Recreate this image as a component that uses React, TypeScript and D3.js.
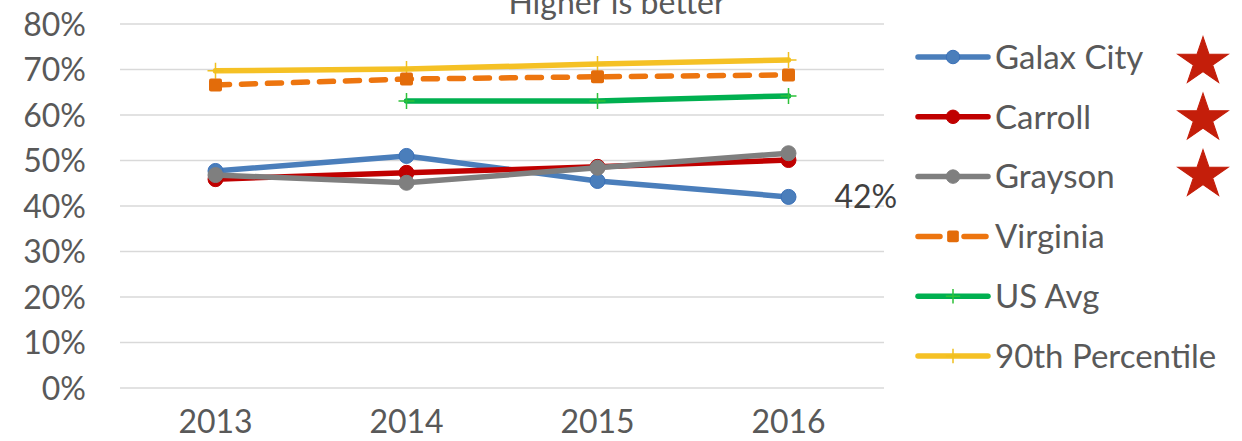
import React, { useEffect, useRef } from 'react';
import * as d3 from 'd3';

const years = ['2013', '2014', '2015', '2016'];
const yTicks = [0, 0.1, 0.2, 0.3, 0.4, 0.5, 0.6, 0.7, 0.8];

const galaxCity = [0.477, 0.510, 0.455, 0.420];
const carroll = [0.459, 0.473, 0.486, 0.501];
const grayson = [0.468, 0.451, 0.484, 0.516];
const virginia = [0.666, 0.679, 0.684, 0.688];
const usAvg = [null, 0.631, 0.631, 0.642];
const percentile90 = [0.697, 0.701, 0.712, 0.721];

const seriesNames = ['Galax City', 'Carroll', 'Grayson', 'Virginia', 'US Avg', '90th Percentile'];
const starred = ['Galax City', 'Carroll', 'Grayson'];

interface Series {
  name: string;
  values: (number | null)[];
  color: string;
  marker: 'circle' | 'square' | 'plus';
  dashed?: boolean;
}

const FONT = "'Lato', 'Open Sans', sans-serif";

export default function App() {
  const svgRef = useRef<SVGSVGElement>(null);

  useEffect(() => {
    if (!svgRef.current) return;
    const svg = d3.select(svgRef.current);
    svg.selectAll('*').remove();

    const margin = { top: 24, left: 120, right: 1242 - 884, bottom: 441 - 388 };
    const width = 1242 - margin.left - margin.right;
    const height = 441 - margin.top - margin.bottom;

    const series: Series[] = [
      { name: seriesNames[0], values: galaxCity, color: '#4a7ebb', marker: 'circle' },
      { name: seriesNames[1], values: carroll, color: '#c00000', marker: 'circle' },
      { name: seriesNames[2], values: grayson, color: '#7f7f7f', marker: 'circle' },
      { name: seriesNames[3], values: virginia, color: '#ed750f', marker: 'square', dashed: true },
      { name: seriesNames[4], values: usAvg, color: '#00b050', marker: 'plus' },
      { name: seriesNames[5], values: percentile90, color: '#f5c125', marker: 'plus' },
    ];
    // draw order: background lines first
    const drawOrder = [5, 3, 4, 0, 1, 2];

    const x = d3.scaleBand<string>().domain(years).range([0, width]);
    const y = d3.scaleLinear().domain([0, 0.8]).range([height, 0]);
    const cx = (i: number) => (x(years[i]) as number) + x.bandwidth() / 2;

    const g = svg.append('g').attr('transform', `translate(${margin.left},${margin.top})`);

    // gridlines
    g.append('g')
      .selectAll('line')
      .data(yTicks)
      .enter()
      .append('line')
      .attr('x1', 0)
      .attr('x2', width)
      .attr('y1', d => y(d))
      .attr('y2', d => y(d))
      .style('stroke', '#d9d9d9')
      .style('stroke-width', 1.5);

    // y axis labels
    g.append('g')
      .selectAll('text')
      .data(yTicks)
      .enter()
      .append('text')
      .attr('x', -34)
      .attr('y', d => y(d))
      .attr('dy', '0.36em')
      .style('text-anchor', 'end')
      .style('font-family', FONT)
      .style('font-size', '32px')
      .style('fill', '#595959')
      .text(d => d3.format('.0%')(d));

    // x axis labels
    g.append('g')
      .selectAll('text')
      .data(years)
      .enter()
      .append('text')
      .attr('x', (d, i) => cx(i))
      .attr('y', height + 45)
      .style('text-anchor', 'middle')
      .style('font-family', FONT)
      .style('font-size', '32px')
      .style('fill', '#595959')
      .text(d => d);

    // title (partially clipped at the top, as in the original)
    svg.append('text')
      .attr('x', 617)
      .attr('y', 14)
      .style('text-anchor', 'middle')
      .style('font-family', FONT)
      .style('font-size', '32px')
      .style('fill', '#595959')
      .text('Higher is better');

    const drawMarker = (sel: d3.Selection<SVGGElement, unknown, null, undefined>, s: Series, px: number, py: number, scale = 1) => {
      if (s.marker === 'circle') {
        sel.append('circle')
          .attr('cx', px).attr('cy', py).attr('r', 7.5 * scale)
          .style('fill', s.color)
          .style('stroke', s.color === '#4a7ebb' ? '#3a70b8' : s.color)
          .style('stroke-width', 1);
      } else if (s.marker === 'square') {
        const r = 6.5 * scale;
        sel.append('rect')
          .attr('x', px - r).attr('y', py - r).attr('width', 2 * r).attr('height', 2 * r)
          .attr('rx', 2)
          .style('fill', '#e36c0a');
      } else {
        const r = 8 * scale;
        sel.append('path')
          .attr('d', `M${px - r},${py}H${px + r}M${px},${py - r}V${py + r}`)
          .style('stroke', s.color === '#00b050' ? '#2ec13a' : '#f0c020')
          .style('stroke-width', 1.5)
          .style('fill', 'none');
      }
    };

    const line = d3.line<[number, number | null]>()
      .defined(d => d[1] !== null)
      .x(d => cx(d[0]))
      .y(d => y(d[1] as number));

    drawOrder.forEach(idx => {
      const s = series[idx];
      const sg = g.append('g');
      sg.append('path')
        .datum(s.values.map((v, i) => [i, v] as [number, number | null]))
        .attr('d', line)
        .style('fill', 'none')
        .style('stroke', s.color)
        .style('stroke-width', 5.5)
        .style('stroke-linecap', 'round')
        .style('stroke-linejoin', 'round')
        .style('stroke-dasharray', s.dashed ? '14,12' : null);
      s.values.forEach((v, i) => {
        if (v === null) return;
        drawMarker(sg, s, cx(i), y(v));
      });
    });

    // data label
    g.append('text')
      .attr('x', cx(3) + 46)
      .attr('y', y(galaxCity[3]))
      .attr('dy', '0.36em')
      .style('font-family', FONT)
      .style('font-size', '32px')
      .style('fill', '#404040')
      .text(d3.format('.0%')(galaxCity[3]));

    // legend
    const legend = svg.append('g').attr('transform', 'translate(918, 57)');
    series.forEach((s, i) => {
      const row = legend.append('g').attr('transform', `translate(0, ${i * 59.8})`);
      if (s.dashed) {
        row.append('path')
          .attr('d', 'M0,0H22M46,0H68')
          .style('stroke', s.color).style('stroke-width', 5.5).style('stroke-linecap', 'round');
      } else {
        row.append('line')
          .attr('x1', 0).attr('x2', 70).attr('y1', 0).attr('y2', 0)
          .style('stroke', s.color).style('stroke-width', 5.5).style('stroke-linecap', 'round');
      }
      drawMarker(row as any, s, 35, 0, 0.9);
      row.append('text')
        .attr('x', 77)
        .attr('y', 0)
        .attr('dy', '0.36em')
        .style('font-family', FONT)
        .style('font-size', '33px')
        .style('fill', '#595959')
        .text(s.name);
    });

    // stars
    const star = d3.symbol().type(d3.symbolStar).size(720);
    starred.forEach((name, i) => {
      svg.append('path')
        .attr('d', star() as string)
        .attr('transform', `translate(1203, ${62 + i * 56.5}) scale(1.05,1)`)
        .style('fill', '#c41e0a')
        .style('stroke', '#c41e0a')
        .style('stroke-width', 1)
        .attr('data-name', name);
    });
  }, []);

  return (
    <svg
      ref={svgRef}
      width={1242}
      height={441}
      style={{ position: 'absolute', left: 0, top: 0, background: '#fff' }}
    />
  );
}
